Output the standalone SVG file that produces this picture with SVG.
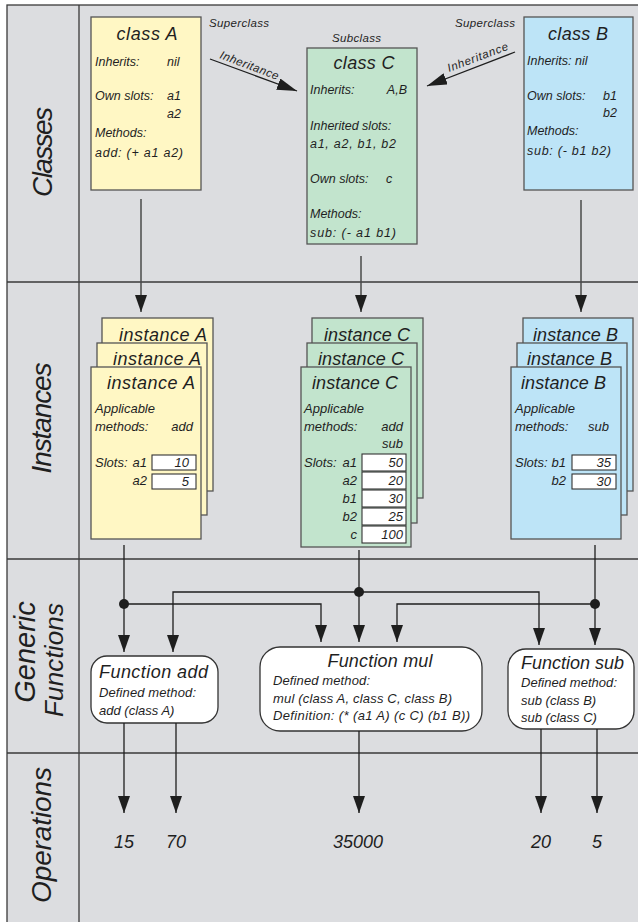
<svg xmlns="http://www.w3.org/2000/svg" width="638" height="922" viewBox="0 0 638 922">
<defs>
<style>
text{font-family:"Liberation Sans",Arial,sans-serif;font-style:italic;fill:#1f1f1f}
.lbl{font-size:28px;text-anchor:middle}
.ttl{font-size:18px}
.b{font-size:12.5px}
.s{font-size:13px}
.sm{font-size:11.5px}
.num{font-size:18px;text-anchor:middle}
.end{text-anchor:end}
.mid{text-anchor:middle}
.frame{fill:none;stroke:#3a3a3a;stroke-width:1.3}
.ya{fill:#fff7c4;stroke:#555;stroke-width:1.3}
.gr{fill:#c2e4cd;stroke:#555;stroke-width:1.3}
.bl{fill:#bde4f7;stroke:#555;stroke-width:1.3}
.slot{fill:#fff;stroke:#333;stroke-width:1.1}
.fn{fill:#fff;stroke:#333;stroke-width:1.3}
.c{fill:none;stroke:#1e1e1e;stroke-width:1.3}
.cg{fill:none;stroke:#4a4a4a;stroke-width:1.5}
.dot{fill:#1e1e1e}
</style>
<marker id="ah" viewBox="0 0 17 12" refX="17" refY="6" markerWidth="17" markerHeight="12" markerUnits="userSpaceOnUse" orient="auto">
<path d="M0,0 L17,6 L0,12 z" fill="#1e1e1e"/>
</marker>
<marker id="ai" viewBox="0 0 20 12" refX="20" refY="6" markerWidth="20" markerHeight="12" markerUnits="userSpaceOnUse" orient="auto">
<path d="M0,0 L20,6 L0,12 z" fill="#1e1e1e"/>
</marker>
</defs>
<rect x="0" y="0" width="638" height="922" fill="#fff"/>
<g id="frame">
<rect x="7" y="5" width="640" height="930" fill="#dcdde0" stroke="#3a3a3a" stroke-width="1.3"/>
<path class="frame" d="M79,5 V922 M7,282 H638 M7,559 H638 M7,753 H638"/>
<text class="lbl" transform="translate(52,152) rotate(-90)" textLength="90">Classes</text>
<text class="lbl" transform="translate(51,418) rotate(-90)" textLength="111">Instances</text>
<text class="lbl" style="font-size:29px" transform="translate(35,652) rotate(-90)">Generic</text>
<text class="lbl" style="font-size:26px" transform="translate(63,660) rotate(-90)" textLength="114">Functions</text>
<text class="lbl" transform="translate(51,835) rotate(-90)" textLength="136">Operations</text>
</g>
<g id="classA">
<rect class="ya" x="91" y="17" width="110" height="173"/>
<text class="ttl mid" x="147" y="40" textLength="61">class A</text>
<text class="b" x="95" y="66">Inherits:</text><text class="b" x="167" y="66">nil</text>
<text class="b" x="95" y="100">Own slots:</text><text class="b" x="167" y="100">a1</text>
<text class="b" x="167" y="118">a2</text>
<text class="b" x="95" y="137">Methods:</text>
<text class="b" x="95" y="157" textLength="88">add: (+ a1 a2)</text>
</g>
<g id="classC">
<rect class="gr" x="307" y="48" width="110" height="196"/>
<text class="ttl mid" x="364" y="69" textLength="61">class C</text>
<text class="b" x="310" y="94">Inherits:</text><text class="b end" x="407" y="94">A,B</text>
<text class="b" x="310" y="130">Inherited slots:</text>
<text class="b" x="310" y="148" textLength="86">a1, a2, b1, b2</text>
<text class="b" x="310" y="183">Own slots:</text><text class="b" x="386" y="183">c</text>
<text class="b" x="310" y="218">Methods:</text>
<text class="b" x="310" y="237" textLength="86">sub: (- a1 b1)</text>
</g>
<g id="classB">
<rect class="bl" x="524" y="17" width="109" height="173"/>
<text class="ttl mid" x="578" y="40" textLength="60">class B</text>
<text class="b" x="527" y="65">Inherits: nil</text>
<text class="b" x="527" y="100">Own slots:</text><text class="b" x="603" y="100">b1</text>
<text class="b" x="603" y="117">b2</text>
<text class="b" x="527" y="135">Methods:</text>
<text class="b" x="527" y="155" textLength="84">sub: (- b1 b2)</text>
</g>
<g id="labels">
<text class="sm" x="209" y="27" textLength="60">Superclass</text>
<text class="sm" x="455" y="27" textLength="60">Superclass</text>
<text class="sm" x="332" y="42" textLength="49">Subclass</text>
<text class="sm" transform="translate(219,58) rotate(20.8)" textLength="62">Inheritance</text>
<text class="sm" transform="translate(449,72) rotate(-20.5)" textLength="64">Inheritance</text>
</g>
<g id="instanceA">
<rect class="ya" x="102" y="318" width="111" height="173"/>
<text class="ttl end" x="207" y="341" textLength="88">instance A</text>
<rect class="ya" x="97" y="343" width="110" height="172"/>
<text class="ttl end" x="201" y="365" textLength="88">instance A</text>
<rect class="ya" x="91" y="367" width="110" height="172"/>
<text class="ttl end" x="195" y="389" textLength="88">instance A</text>
<text class="s" x="95" y="413">Applicable</text>
<text class="s" x="95" y="431">methods:</text><text class="s end" x="193" y="431">add</text>
<text class="s" x="95" y="467">Slots:</text><text class="s end" x="147" y="467">a1</text>
<text class="s end" x="147" y="485">a2</text>
<rect class="slot" x="152" y="455" width="44" height="15"/>
<rect class="slot" x="152" y="474" width="44" height="15"/>
<text class="s end" x="189" y="467">10</text>
<text class="s end" x="189" y="486">5</text>
</g>
<g id="instanceC">
<rect class="gr" x="312" y="318" width="111" height="180"/>
<text class="ttl end" x="410" y="341" textLength="86">instance C</text>
<rect class="gr" x="307" y="343" width="110" height="180"/>
<text class="ttl end" x="404" y="365" textLength="86">instance C</text>
<rect class="gr" x="301" y="367" width="110" height="180"/>
<text class="ttl end" x="398" y="389" textLength="86">instance C</text>
<text class="s" x="304" y="413">Applicable</text>
<text class="s" x="304" y="431">methods:</text><text class="s end" x="403" y="431">add</text>
<text class="s end" x="403" y="448">sub</text>
<text class="s" x="304" y="467">Slots:</text><text class="s end" x="357" y="467">a1</text>
<text class="s end" x="357" y="485">a2</text>
<text class="s end" x="357" y="503">b1</text>
<text class="s end" x="357" y="521">b2</text>
<text class="s end" x="357" y="539">c</text>
<rect class="slot" x="362" y="454" width="44" height="17"/>
<rect class="slot" x="362" y="472" width="44" height="17"/>
<rect class="slot" x="362" y="490" width="44" height="17"/>
<rect class="slot" x="362" y="508" width="44" height="17"/>
<rect class="slot" x="362" y="526" width="44" height="17"/>
<text class="s end" x="403" y="467">50</text>
<text class="s end" x="403" y="485">20</text>
<text class="s end" x="403" y="503">30</text>
<text class="s end" x="403" y="521">25</text>
<text class="s end" x="403" y="539">100</text>
</g>
<g id="instanceB">
<rect class="bl" x="523" y="318" width="110" height="173"/>
<text class="ttl end" x="618" y="341" textLength="85">instance B</text>
<rect class="bl" x="517" y="343" width="110" height="172"/>
<text class="ttl end" x="612" y="365" textLength="85">instance B</text>
<rect class="bl" x="511" y="367" width="110" height="172"/>
<text class="ttl end" x="606" y="389" textLength="85">instance B</text>
<text class="s" x="515" y="413">Applicable</text>
<text class="s" x="515" y="431">methods:</text><text class="s end" x="609" y="431">sub</text>
<text class="s" x="515" y="467">Slots:</text><text class="s end" x="566" y="467">b1</text>
<text class="s end" x="566" y="485">b2</text>
<rect class="slot" x="572" y="455" width="44" height="15"/>
<rect class="slot" x="572" y="474" width="44" height="15"/>
<text class="s end" x="611" y="467">35</text>
<text class="s end" x="611" y="486">30</text>
</g>
<g id="fnAdd">
<rect class="fn" x="91" y="656" width="127" height="67" rx="16"/>
<text class="ttl" x="99" y="678" textLength="109">Function add</text>
<text class="s" x="99" y="697" textLength="97">Defined method:</text>
<text class="s" x="99" y="715">add (class A)</text>
</g>
<g id="fnMul">
<rect class="fn" x="260" y="647" width="222" height="84" rx="20"/>
<text class="ttl mid" x="380" y="667" textLength="105">Function mul</text>
<text class="s" x="273" y="685" textLength="97">Defined method:</text>
<text class="s" x="273" y="703" textLength="179">mul (class A, class C, class B)</text>
<text class="s" x="273" y="720" textLength="197">Definition: (* (a1 A) (c C) (b1 B))</text>
</g>
<g id="fnSub">
<rect class="fn" x="508" y="649" width="126" height="80" rx="18"/>
<text class="ttl" x="521" y="669" textLength="103">Function sub</text>
<text class="s" x="521" y="687" textLength="96">Defined method:</text>
<text class="s" x="521" y="705">sub (class B)</text>
<text class="s" x="521" y="722">sub (class C)</text>
</g>
<g id="results">
<text class="num" x="124" y="848">15</text>
<text class="num" x="176" y="848">70</text>
<text class="num" x="358" y="848">35000</text>
<text class="num" x="541" y="848">20</text>
<text class="num" x="597" y="848">5</text>
</g>
<g id="connectors">
<path class="c" d="M210,59 L297,91" marker-end="url(#ai)"/>
<path class="c" d="M515,52 L427,86" marker-end="url(#ai)"/>
<path class="cg" d="M141,199 V312" marker-end="url(#ah)"/>
<path class="cg" d="M361,256 V312" marker-end="url(#ah)"/>
<path class="cg" d="M581,200 V312" marker-end="url(#ah)"/>
<path class="c" d="M124,545 V652" marker-end="url(#ah)"/>
<path class="c" d="M124,604 H321 V642" marker-end="url(#ah)"/>
<path class="c" d="M359,550 V642" marker-end="url(#ah)"/>
<path class="c" d="M359,592 H173 V652" marker-end="url(#ah)"/>
<path class="c" d="M359,592 H539 V645" marker-end="url(#ah)"/>
<path class="c" d="M595,545 V645" marker-end="url(#ah)"/>
<path class="c" d="M595,604 H397 V642" marker-end="url(#ah)"/>
<circle class="dot" cx="124" cy="604" r="5"/>
<circle class="dot" cx="359" cy="592" r="5"/>
<circle class="dot" cx="595" cy="604" r="5"/>
<path class="c" d="M124,723 V813" marker-end="url(#ah)"/>
<path class="c" d="M176,723 V813" marker-end="url(#ah)"/>
<path class="c" d="M359,731 V813" marker-end="url(#ah)"/>
<path class="c" d="M541,729 V813" marker-end="url(#ah)"/>
<path class="c" d="M597,729 V813" marker-end="url(#ah)"/>
</g>
</svg>
